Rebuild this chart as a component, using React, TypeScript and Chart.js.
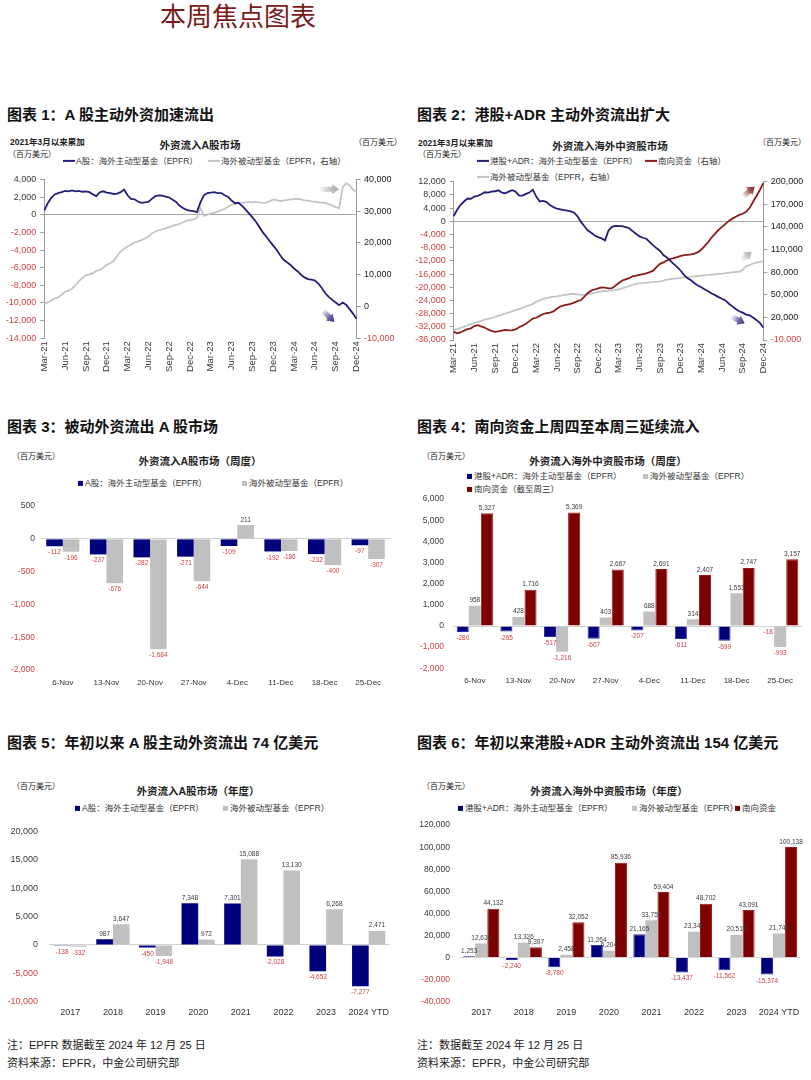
import React, { useEffect, useRef } from 'react';
import { Chart, registerables } from 'chart.js';
Chart.register(...registerables);

// ---------- tick labels ----------
const quarterTicks = ['Mar-21','Jun-21','Sep-21','Dec-21','Mar-22','Jun-22','Sep-22','Dec-22','Mar-23','Jun-23','Sep-23','Dec-23','Mar-24','Jun-24','Sep-24','Dec-24'];

// ---------- chart 1 : cumulative since Mar-2021, semi-monthly (US$ mn) ----------
const aActiveCum = [500,1300,1900,2300,2450,2550,2700,2650,2750,2650,
 2700,2600,2650,2550,2300,2100,2550,2650,2500,2450,
 2350,2400,2550,2850,2200,1800,1750,1500,1350,1400,
 1450,1800,2100,2200,2150,2050,1950,1700,1450,1000,
 750,550,450,400,300,1400,2200,2450,2500,2550,
 2450,2450,2200,2000,1600,1300,1350,1000,600,150,
 -300,-800,-1400,-2000,-2500,-3000,-3500,-4000,-4600,-5100,
 -5400,-5700,-6100,-6400,-6800,-7100,-7300,-7350,-7450,-7800,
 -8300,-8900,-9300,-9650,-9950,-10250,-9950,-10200,-10700,-11200,
 -11800];
const aPassiveCum = [900,1300,1900,2500,2900,3700,4600,5000,5600,6700,
 8000,9000,9800,10100,10500,11200,11500,12200,13100,13600,
 14300,16000,17300,18200,18900,19600,20100,20500,20900,21400,
 22000,23000,23600,24000,24300,24700,25000,25400,25700,26000,
 26500,27000,27200,27400,27900,31000,28500,28800,29200,29500,
 29900,30300,30700,31400,32000,32300,32600,32700,32800,32900,
 32800,32900,32800,32600,32700,33200,33600,33500,33200,33300,
 33500,33700,33800,33900,33700,33400,33300,33100,33000,32800,
 32700,32600,32200,31800,31300,31000,37500,38800,38200,36800,
 36000];

// ---------- chart 2 ----------
const hkActiveCum = [1600,3500,5000,6000,6900,6800,7500,7700,8200,8800,
 8700,9000,9100,9400,8700,8500,9000,9400,9000,7800,
 7800,8300,8700,9600,7500,6000,6200,5800,4900,4300,
 3800,3600,3400,3200,3000,2600,1500,-200,-1500,-2800,
 -3500,-4300,-4800,-5200,-5800,-2800,-1700,-1400,-1500,-1500,
 -1800,-2100,-3000,-3800,-4600,-5000,-5300,-6300,-7300,-8200,
 -9000,-10300,-11000,-12000,-13000,-13900,-15000,-16300,-17300,-17900,
 -18800,-19500,-20000,-20700,-21200,-21900,-22400,-23000,-23500,-24000,
 -25000,-25800,-26600,-27300,-27700,-28300,-28500,-29200,-29900,-30800,
 -32200];
const southboundCum = [1000,-1000,0,2500,4500,5500,8500,9800,8000,6500,
 4000,2000,800,1500,2500,3300,2800,3000,4000,7000,
 9000,11500,15000,18500,19500,22000,24500,25500,26200,28000,
 31500,34500,36000,37000,37800,39500,41500,43000,47500,52500,
 55500,57000,58500,59800,59500,58500,58800,62000,65500,69000,
 70500,72000,74500,75500,76500,77500,78500,80000,82000,87000,
 91000,93000,95500,97500,98500,100000,101500,102500,103000,103500,
 104500,106500,110000,115000,120000,126000,131000,136000,140000,144000,
 148000,151000,153500,156000,157500,160000,165000,173000,181000,189000,
 198000];
const hkPassiveCum = [3000,4500,6000,7800,9500,11000,12500,14000,15500,17000,
 18000,19000,20500,22000,23500,25000,26500,28000,29500,31000,
 32500,34500,36000,38000,40500,42500,44500,45500,46500,47500,
 48000,48800,49500,50300,51000,51200,50500,50000,49800,50500,
 51500,52500,53800,54500,55000,55300,55800,56500,57200,58500,
 60000,61500,63000,64500,65200,65500,66000,66500,67000,67300,
 67800,68800,70000,70800,71500,71800,72300,73000,73500,74000,
 74500,74900,75300,75800,76300,76800,77200,77600,78000,78700,
 79200,79700,80200,80600,83000,88000,89500,91500,92500,93500,
 94800];

// ---------- weekly ----------
const weeks = ['6-Nov','13-Nov','20-Nov','27-Nov','4-Dec','11-Dec','18-Dec','25-Dec'];
const wkAActive = [-112,-237,-282,-271,-109,-192,-232,-97];
const wkAPassive = [-196,-676,-1684,-644,211,-186,-400,-307];
const wkHkActive = [-280,-265,-517,-607,-207,-611,-699,-18];
const wkHkPassive = [958,428,-1216,403,688,314,1553,-993];
const wkSouthbound = [5327,1716,5369,2667,2691,2407,2747,3157];

// ---------- yearly ----------
const years = ['2017','2018','2019','2020','2021','2022','2023','2024 YTD'];
const yrAActive = [-138,987,-450,7348,7301,-2028,-4653,-7277];
const yrAPassive = [-332,3647,-1948,972,15088,13130,6268,2471];
const yrHkActive = [1253,-2240,-8780,11264,21165,-13437,-11562,-15374];
const yrHkPassive = [12635,13326,2458,6204,33753,23346,20515,21741];
const yrSouthbound = [44132,9397,32052,85936,59404,48702,43091,100138];

// ---------- decorative arrows (data space) ----------
const chart1Arrows = [
  { axis: 'y1', from: [79, 36900], to: [85, 36900], rgb: [170, 170, 170] },
  { axis: 'y', from: [80.2, -10830], to: [83.6, -12150], rgb: [50, 50, 130] },
];
const chart2Arrows = [
  { axis: 'y1', from: [84, 180100], to: [87.5, 193400], rgb: [130, 30, 30] },
  { axis: 'y1', from: [83.7, 96100], to: [86.6, 107100], rgb: [175, 175, 175] },
  { axis: 'y', from: [80.7, -28900], to: [84.6, -30940], rgb: [50, 50, 130] },
];

const FONT = "'Liberation Sans', Arial, 'Noto Sans CJK SC', sans-serif";
const NEG = '#cf3f3f';
const POS = '#3a3a3a';
const NAVY = '#202078';
const BAR_NAVY = '#00007c';
const GRAY = '#c0c0c0';
const DARKRED = '#8b1a1a';
const BAR_RED = '#7c0000';

const fmt = (v: number) => Number(v).toLocaleString('en-US');
const seriesLabels = aActiveCum.map((_, i) => (i % 6 === 0 ? quarterTicks[i / 6] : ''));
const tickColor = (ctx: any) => (ctx.tick && ctx.tick.value < 0 ? NEG : POS);

const arrowPlugin = {
  id: 'arrows',
  afterDatasetsDraw(chart: any, _a: any, opts: any) {
    const items = (opts && opts.items) || [];
    const ctx = chart.ctx;
    const xs = chart.scales.x;
    items.forEach((a: any) => {
      const ys = chart.scales[a.axis];
      const x0 = xs.getPixelForValue(a.from[0]);
      const y0 = ys.getPixelForValue(a.from[1]);
      const x1 = xs.getPixelForValue(a.to[0]);
      const y1 = ys.getPixelForValue(a.to[1]);
      const dx = x1 - x0, dy = y1 - y0;
      const len = Math.hypot(dx, dy);
      const ux = dx / len, uy = dy / len;
      const nx = -uy, ny = ux;
      const head = 7, hw = 5, sw = 2.6;
      const bx = x1 - ux * head, by = y1 - uy * head;
      const [r, g, b] = a.rgb;
      const grad = ctx.createLinearGradient(x0, y0, x1, y1);
      grad.addColorStop(0, `rgba(${r},${g},${b},0)`);
      grad.addColorStop(0.6, `rgba(${r},${g},${b},0.75)`);
      grad.addColorStop(1, `rgba(${r},${g},${b},1)`);
      ctx.save();
      ctx.fillStyle = grad;
      ctx.beginPath();
      ctx.moveTo(x0 + nx * sw, y0 + ny * sw);
      ctx.lineTo(bx + nx * sw, by + ny * sw);
      ctx.lineTo(bx + nx * hw, by + ny * hw);
      ctx.lineTo(x1, y1);
      ctx.lineTo(bx - nx * hw, by - ny * hw);
      ctx.lineTo(bx - nx * sw, by - ny * sw);
      ctx.lineTo(x0 - nx * sw, y0 - ny * sw);
      ctx.closePath();
      ctx.fill();
      ctx.restore();
    });
  },
};

const valueLabelPlugin = {
  id: 'valueLabels',
  afterDatasetsDraw(chart: any, _a: any, opts: any) {
    const ctx = chart.ctx;
    ctx.save();
    ctx.font = `${opts.size || 6.5}px ${FONT}`;
    ctx.textAlign = 'center';
    chart.data.datasets.forEach((ds: any, di: number) => {
      const meta = chart.getDatasetMeta(di);
      meta.data.forEach((bar: any, i: number) => {
        const v = ds.data[i];
        const t = fmt(v);
        if (v >= 0) {
          ctx.fillStyle = POS;
          ctx.textBaseline = 'bottom';
          ctx.fillText(t, bar.x, bar.y - 2);
        } else {
          ctx.fillStyle = NEG;
          ctx.textBaseline = 'top';
          ctx.fillText(t, bar.x, bar.y + 3);
        }
      });
    });
    ctx.restore();
  },
};

function lineConfig(o: any) {
  return {
    type: 'line',
    data: { labels: seriesLabels, datasets: o.datasets },
    options: {
      animation: false,
      responsive: false,
      maintainAspectRatio: false,
      devicePixelRatio: 1,
      layout: { padding: { top: o.padTop, left: 0, right: 0, bottom: 0 } },
      elements: { point: { radius: 0 }, line: { tension: 0 } },
      plugins: { legend: { display: false }, tooltip: { enabled: false }, arrows: { items: o.arrows } },
      scales: {
        x: {
          offset: false,
          grid: { display: false, drawTicks: false },
          border: { display: false },
          ticks: { autoSkip: false, minRotation: 90, maxRotation: 90, padding: 3, color: POS, font: { family: FONT, size: 9.5 } },
          afterFit: (s: any) => { s.height = o.xH; },
        },
        y: {
          position: 'left', min: o.yMin, max: o.yMax,
          ticks: { autoSkip: false, stepSize: o.yStep, color: tickColor, padding: 4, font: { family: FONT, size: 9 }, callback: (v: any) => fmt(v) },
          grid: { color: (c: any) => (c.tick && c.tick.value === 0 ? '#a8a8a8' : 'rgba(0,0,0,0)'), tickColor: '#9a9a9a', tickLength: 4, drawTicks: true },
          border: { display: true, color: '#9a9a9a' },
          afterFit: (s: any) => { s.width = o.yW; },
        },
        y1: {
          position: 'right', min: o.y1Min, max: o.y1Max,
          ticks: { autoSkip: false, stepSize: o.y1Step, color: (c: any) => (c.tick && c.tick.value < 0 ? NEG : '#222'), padding: 3.5, font: { family: FONT, size: 9 }, callback: (v: any) => fmt(v) },
          grid: { drawOnChartArea: false, tickColor: '#9a9a9a', tickLength: 4 },
          border: { display: true, color: '#9a9a9a' },
          afterFit: (s: any) => { s.width = o.y1W; },
        },
      },
    },
    plugins: [arrowPlugin],
  };
}

function barConfig(o: any) {
  return {
    type: 'bar',
    data: {
      labels: o.labels,
      datasets: o.datasets.map((d: any) => ({ categoryPercentage: o.cat, barPercentage: 1, ...d })),
    },
    options: {
      animation: false,
      responsive: false,
      maintainAspectRatio: false,
      devicePixelRatio: 1,
      layout: { padding: { top: o.padTop, left: 0, right: o.padRight, bottom: 0 } },
      plugins: { legend: { display: false }, tooltip: { enabled: false }, valueLabels: { size: o.labelSize } },
      scales: {
        x: {
          grid: { display: false, drawTicks: false },
          border: { display: false },
          ticks: { padding: o.xPad, color: '#333', font: { family: FONT, size: o.xSize }, autoSkip: false, maxRotation: 0 },
          afterFit: (s: any) => { s.height = o.xH; },
        },
        y: {
          min: o.min, max: o.max,
          ticks: { autoSkip: false, stepSize: o.step, color: tickColor, padding: o.yPad, font: { family: FONT, size: o.ySize }, callback: (v: any) => fmt(v) },
          grid: { color: (c: any) => (c.tick && c.tick.value === 0 ? '#d2d2d2' : 'rgba(0,0,0,0)'), drawTicks: false },
          border: { display: false },
          afterFit: (s: any) => { s.width = o.yW; },
        },
      },
    },
    plugins: [valueLabelPlugin],
  };
}

function ChartBox({ l, t, w, h, make }: any) {
  const ref = useRef<HTMLCanvasElement>(null);
  useEffect(() => {
    const chart = new Chart(ref.current as HTMLCanvasElement, make() as any);
    return () => chart.destroy();
  }, []);
  return (
    <div style={{ position: 'absolute', left: l, top: t, width: w, height: h }}>
      <canvas ref={ref} width={w} height={h} style={{ width: w, height: h, display: 'block' }} />
    </div>
  );
}

function Txt({ x, y, size, bold, color, center, children }: any) {
  return (
    <div style={{
      position: 'absolute', left: x, top: y,
      transform: center ? 'translate(-50%,-50%)' : 'translateY(-50%)',
      fontSize: size, fontWeight: bold ? 700 : 400, color: color || '#222',
      whiteSpace: 'nowrap', lineHeight: 1.2, fontFamily: FONT,
    }}>{children}</div>
  );
}

function LineKey({ x, y, color, text }: any) {
  return (
    <div style={{ position: 'absolute', left: x, top: y, transform: 'translateY(-50%)', display: 'flex', alignItems: 'center', fontSize: 8.5, color: '#333', whiteSpace: 'nowrap', fontFamily: FONT, lineHeight: 1.2 }}>
      <span style={{ display: 'inline-block', width: 12, height: 2, background: color, marginRight: 1 }} />
      {text}
    </div>
  );
}

function BoxKey({ x, y, color, text }: any) {
  return (
    <div style={{ position: 'absolute', left: x, top: y, transform: 'translateY(-50%)', display: 'flex', alignItems: 'center', fontSize: 8.5, color: '#333', whiteSpace: 'nowrap', fontFamily: FONT, lineHeight: 1.2 }}>
      <span style={{ display: 'inline-block', width: 5, height: 5, background: color, marginRight: 2 }} />
      {text}
    </div>
  );
}

export default function App() {
  const make1 = () => lineConfig({
    datasets: [
      { data: aActiveCum, borderColor: NAVY, borderWidth: 1.8, yAxisID: 'y' },
      { data: aPassiveCum, borderColor: '#c4c4c4', borderWidth: 1.8, yAxisID: 'y1' },
    ],
    yMin: -14000, yMax: 4000, yStep: 2000, y1Min: -10000, y1Max: 40000, y1Step: 10000,
    yW: 44.3, y1W: 48.5, padTop: 7.7, xH: 46.7, arrows: chart1Arrows,
  });
  const make2 = () => lineConfig({
    datasets: [
      { data: hkActiveCum, borderColor: NAVY, borderWidth: 1.8, yAxisID: 'y' },
      { data: southboundCum, borderColor: DARKRED, borderWidth: 1.8, yAxisID: 'y1' },
      { data: hkPassiveCum, borderColor: '#c4c4c4', borderWidth: 1.8, yAxisID: 'y1' },
    ],
    yMin: -36000, yMax: 12000, yStep: 4000, y1Min: -10000, y1Max: 200000, y1Step: 30000,
    yW: 48.7, y1W: 47.7, padTop: 11.7, xH: 45, arrows: chart2Arrows,
  });
  const make3 = () => barConfig({
    labels: weeks,
    datasets: [
      { data: wkAActive, backgroundColor: BAR_NAVY },
      { data: wkAPassive, backgroundColor: GRAY },
    ],
    cat: 0.76, min: -2000, max: 500, step: 500, yW: 41, padTop: 6.7, padRight: 15, xH: 25, xPad: 8,
    xSize: 8, ySize: 8.5, yPad: 6, labelSize: 6.5,
  });
  const make4 = () => barConfig({
    labels: weeks,
    datasets: [
      { data: wkHkActive, backgroundColor: BAR_NAVY, borderColor: '#2b2bb0', borderWidth: 1 },
      { data: wkHkPassive, backgroundColor: GRAY },
      { data: wkSouthbound, backgroundColor: BAR_RED, borderColor: '#a01818', borderWidth: 1 },
    ],
    cat: 0.83, min: -2000, max: 6000, step: 1000, yW: 48, padTop: 9, padRight: 9, xH: 26.7, xPad: 8,
    xSize: 8, ySize: 8.5, yPad: 9, labelSize: 6.5,
  });
  const make5 = () => barConfig({
    labels: years,
    datasets: [
      { data: yrAActive, backgroundColor: BAR_NAVY },
      { data: yrAPassive, backgroundColor: GRAY },
    ],
    cat: 0.78, min: -10000, max: 20000, step: 5000, yW: 49, padTop: 6.7, padRight: 15, xH: 23.3, xPad: 5,
    xSize: 9, ySize: 9, yPad: 11, labelSize: 6.5,
  });
  const make6 = () => barConfig({
    labels: years,
    datasets: [
      { data: yrHkActive, backgroundColor: BAR_NAVY, borderColor: '#2b2bb0', borderWidth: 1 },
      { data: yrHkPassive, backgroundColor: GRAY },
      { data: yrSouthbound, backgroundColor: BAR_RED, borderColor: '#a01818', borderWidth: 1 },
    ],
    cat: 0.85, min: -40000, max: 120000, step: 20000, yW: 55, padTop: 6.7, padRight: 10.7, xH: 23.3, xPad: 5,
    xSize: 9, ySize: 8.5, yPad: 10, labelSize: 6.5,
  });

  return (
    <div style={{ position: 'absolute', left: 0, top: 0, width: 811, height: 1080, background: '#fff', overflow: 'hidden', fontFamily: FONT }}>
      <Txt x={160} y={18} size={26} color="#7a1a1a">本周焦点图表</Txt>

      <Txt x={7} y={115} size={15} bold color="#111">图表 1：A 股主动外资加速流出</Txt>
      <Txt x={417} y={115} size={15} bold color="#111">图表 2：港股+ADR 主动外资流出扩大</Txt>
      <Txt x={7} y={427} size={15} bold color="#111">图表 3：被动外资流出 A 股市场</Txt>
      <Txt x={417} y={427} size={15} bold color="#111">图表 4：南向资金上周四至本周三延续流入</Txt>
      <Txt x={7} y={743} size={15} bold color="#111">图表 5：年初以来 A 股主动外资流出 74 亿美元</Txt>
      <Txt x={417} y={743} size={15} bold color="#111">图表 6：年初以来港股+ADR 主动外资流出 154 亿美元</Txt>

      {/* chart 1 texts */}
      <Txt x={10} y={142} size={8.5} bold>2021年3月以来累加</Txt>
      <Txt x={8} y={155} size={8}>（百万美元）</Txt>
      <Txt x={200} y={145} size={10.5} bold center>外资流入A股市场</Txt>
      <Txt x={354} y={143} size={8}>（百万美元）</Txt>
      <LineKey x={63} y={161} color={NAVY} text="A股：海外主动型基金（EPFR）" />
      <LineKey x={208} y={161} color="#c4c4c4" text="海外被动型基金（EPFR，右轴）" />
      <ChartBox l={0} t={170} w={405} h={215} make={make1} />

      {/* chart 2 texts */}
      <Txt x={418} y={143} size={8.5} bold>2021年3月以来累加</Txt>
      <Txt x={418} y={155} size={8}>（百万美元）</Txt>
      <Txt x={610} y={146} size={10.5} bold center>外资流入海外中资股市场</Txt>
      <Txt x={758} y={143} size={8}>（百万美元）</Txt>
      <LineKey x={477} y={161} color={NAVY} text="港股+ADR：海外主动型基金（EPFR）" />
      <LineKey x={645} y={161} color={DARKRED} text="南向资金（右轴）" />
      <LineKey x={477} y={177} color="#c4c4c4" text="海外被动型基金（EPFR，右轴）" />
      <ChartBox l={405} t={170} w={406} h={215} make={make2} />

      {/* chart 3 */}
      <Txt x={12} y={457} size={8}>（百万美元）</Txt>
      <Txt x={200} y={461} size={10.5} bold center>外资流入A股市场（周度）</Txt>
      <BoxKey x={78} y={483} color={BAR_NAVY} text="A股：海外主动型基金（EPFR）" />
      <BoxKey x={242} y={483} color={GRAY} text="海外被动型基金（EPFR）" />
      <ChartBox l={0} t={495} w={405} h={200} make={make3} />

      {/* chart 4 */}
      <Txt x={422} y={457} size={8}>（百万美元）</Txt>
      <Txt x={608} y={461} size={10.5} bold center>外资流入海外中资股市场（周度）</Txt>
      <BoxKey x={467} y={476} color={BAR_NAVY} text="港股+ADR：海外主动型基金（EPFR）" />
      <BoxKey x={643} y={476} color={GRAY} text="海外被动型基金（EPFR）" />
      <BoxKey x={467} y={489} color={BAR_RED} text="南向资金（截至周三）" />
      <ChartBox l={405} t={485} w={406} h={210} make={make4} />

      {/* chart 5 */}
      <Txt x={12} y={787} size={8}>（百万美元）</Txt>
      <Txt x={198} y={791} size={10.5} bold center>外资流入A股市场（年度）</Txt>
      <BoxKey x={75} y={808} color={BAR_NAVY} text="A股：海外主动型基金（EPFR）" />
      <BoxKey x={223} y={808} color={GRAY} text="海外被动型基金（EPFR）" />
      <ChartBox l={0} t={815} w={405} h={210} make={make5} />

      {/* chart 6 */}
      <Txt x={422} y={787} size={8}>（百万美元）</Txt>
      <Txt x={609} y={791} size={10.5} bold center>外资流入海外中资股市场（年度）</Txt>
      <BoxKey x={458} y={808} color={BAR_NAVY} text="港股+ADR：海外主动型基金（EPFR）" />
      <BoxKey x={632} y={808} color={GRAY} text="海外被动型基金（EPFR）" />
      <BoxKey x={735} y={808} color={BAR_RED} text="南向资金" />
      <ChartBox l={405} t={810} w={406} h={215} make={make6} />

      {/* footers */}
      <Txt x={7} y={1046} size={11}>注：EPFR 数据截至 2024 年 12 月 25 日</Txt>
      <Txt x={7} y={1064} size={11}>资料来源：EPFR，中金公司研究部</Txt>
      <Txt x={417} y={1046} size={11}>注：数据截至 2024 年 12 月 25 日</Txt>
      <Txt x={417} y={1064} size={11}>资料来源：EPFR，中金公司研究部</Txt>
    </div>
  );
}
